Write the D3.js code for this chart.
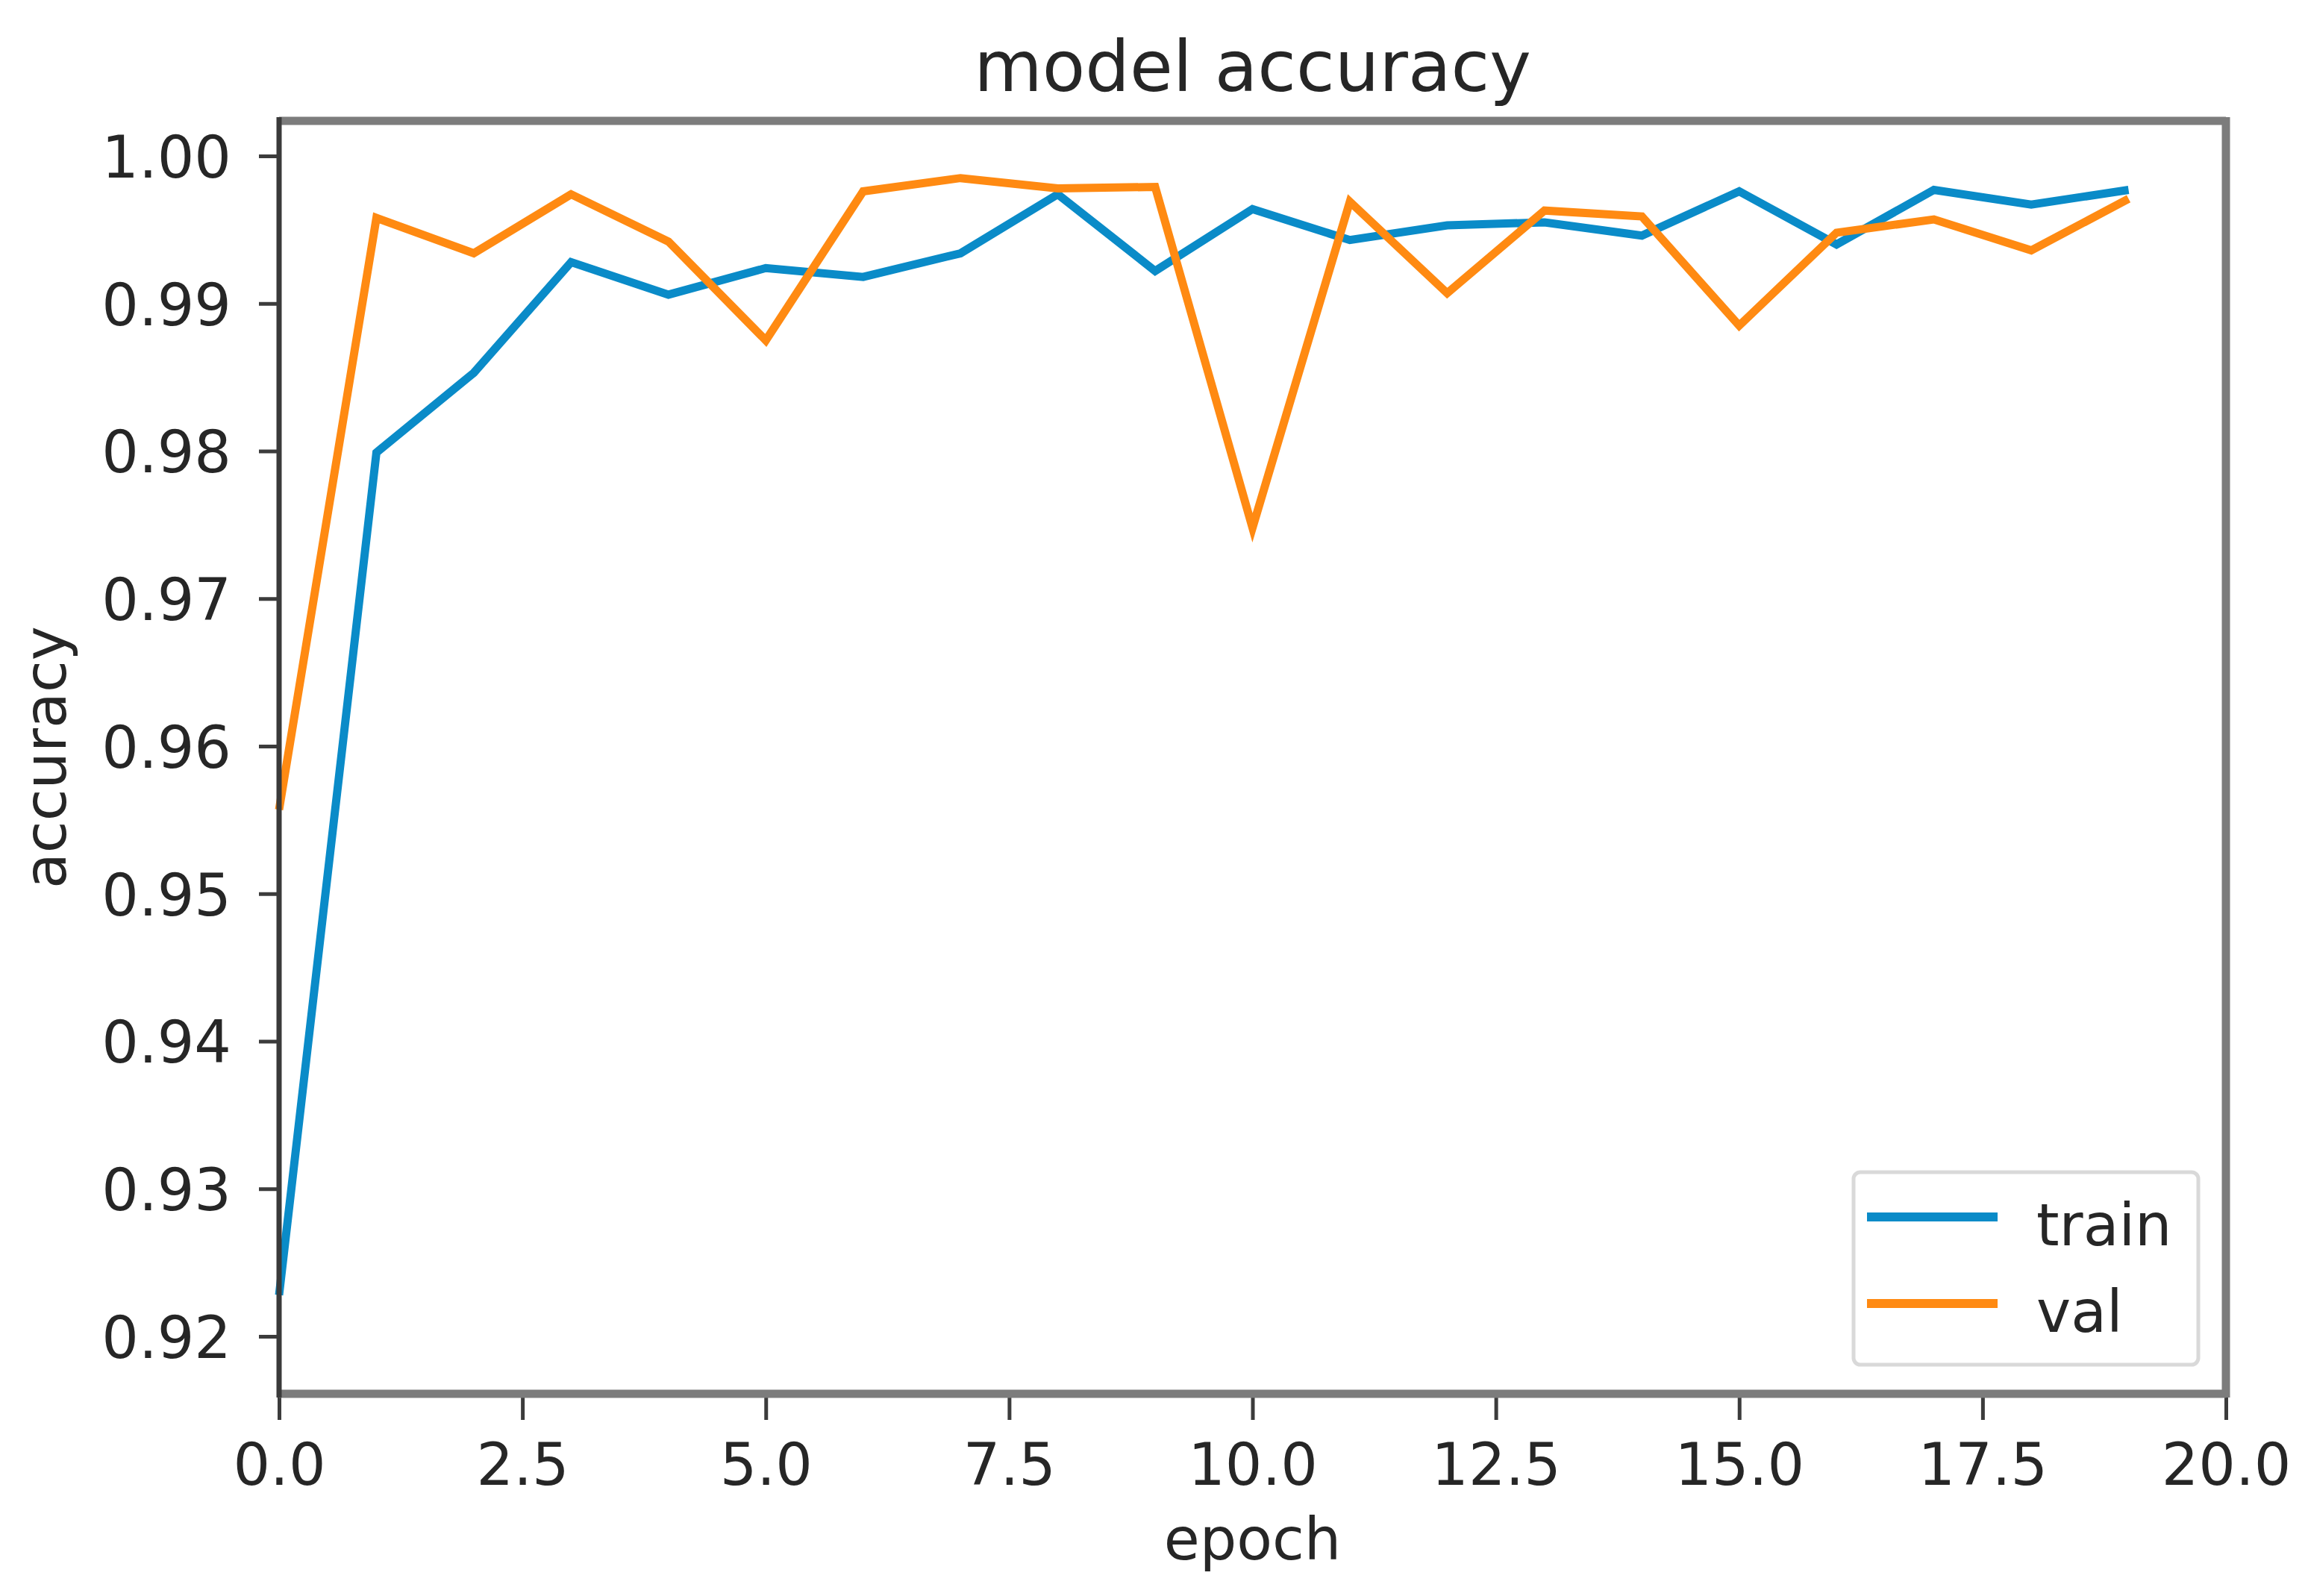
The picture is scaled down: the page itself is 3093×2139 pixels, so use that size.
<!DOCTYPE html>
<html>
<head>
<meta charset="utf-8">
<script src="https://cdnjs.cloudflare.com/ajax/libs/d3/7.8.5/d3.min.js"></script>
<style>
  html, body { margin: 0; padding: 0; background: #ffffff; }
  svg { display: block; }
  text { font-family: "DejaVu Sans", sans-serif; fill: #262626; }
</style>
</head>
<body>
<svg id="chart" width="3093" height="2139"></svg>
<script>
// ---- data ----
const epochs = [0,1,2,3,4,5,6,7,8,9,10,11,12,13,14,15,16,17,18,19];
const trainAcc = [0.9228, 0.9799, 0.9853, 0.9928, 0.9906, 0.9924, 0.9918, 0.9934, 0.9974, 0.9922,
                  0.9964, 0.9943, 0.9953, 0.9955, 0.9946, 0.9976, 0.9940, 0.9977, 0.9967, 0.9977];
const valAcc   = [0.9557, 0.9958, 0.9934, 0.9974, 0.9942, 0.9875, 0.9976, 0.9985, 0.9978, 0.9979,
                  0.9748, 0.9969, 0.9907, 0.9963, 0.9959, 0.9885, 0.9948, 0.9957, 0.9936, 0.9971];
const xTicks = [0, 2.5, 5, 7.5, 10, 12.5, 15, 17.5, 20];
const yTicks = [0.92, 0.93, 0.94, 0.95, 0.96, 0.97, 0.98, 0.99, 1.00];
const seriesNames = ["train", "val"];
const seriesColors = ["#0a8bc8", "#ff8a12"];
const titleText = "model accuracy";
const xLabelText = "epoch";
const yLabelText = "accuracy";

// ---- layout ----
const L = 374, R = 2983, T = 162, B = 1868;
const svg = d3.select("#chart");
svg.append("rect").attr("width", 3093).attr("height", 2139).attr("fill", "#fff");

const x = d3.scaleLinear().domain([0, 20]).range([L, R]);
const y = d3.scaleLinear().domain([0.916106, 1.002377]).range([B, T]);

const FS = 78;

// lines
const line = d3.line().x((d, i) => x(epochs[i])).y(d => y(d));
[trainAcc, valAcc].forEach((s, k) => {
  svg.append("path")
    .datum(s)
    .attr("d", line)
    .attr("fill", "none")
    .attr("stroke", seriesColors[k])
    .attr("stroke-width", 11)
    .attr("stroke-linejoin", "miter")
    .attr("stroke-linecap", "butt");
});

// axes (ticks + labels)
const xAxis = d3.axisBottom(x).tickValues(xTicks).tickFormat(d3.format(".1f"))
  .tickSizeInner(35).tickSizeOuter(0).tickPadding(0);
const gx = svg.append("g").attr("transform", `translate(0,${B})`).call(xAxis);
gx.select(".domain").remove();
gx.selectAll(".tick line").attr("stroke", "#3c3c3c").attr("stroke-width", 5);
gx.selectAll(".tick text")
  .attr("y", null).attr("dy", null)
  .attr("transform", "translate(0,122)")
  .attr("font-size", FS).attr("fill", "#262626")
  .attr("font-family", '"DejaVu Sans", sans-serif');

const yAxis = d3.axisLeft(y).tickValues(yTicks).tickFormat(d3.format(".2f"))
  .tickSizeInner(27).tickSizeOuter(0).tickPadding(0);
const gy = svg.append("g").attr("transform", `translate(${L},0)`).call(yAxis);
gy.select(".domain").remove();
gy.selectAll(".tick line").attr("stroke", "#3c3c3c").attr("stroke-width", 5);
gy.selectAll(".tick text")
  .attr("x", -64).attr("dy", null)
  .attr("transform", `translate(0,${0.729 * FS / 2})`)
  .attr("font-size", FS).attr("fill", "#262626")
  .attr("font-family", '"DejaVu Sans", sans-serif');

// spines
svg.append("line").attr("x1", L).attr("x2", R).attr("y1", T).attr("y2", T)
  .attr("stroke", "#7c7c7c").attr("stroke-width", 11);
svg.append("line").attr("x1", L).attr("x2", R).attr("y1", B).attr("y2", B)
  .attr("stroke", "#7c7c7c").attr("stroke-width", 11);
svg.append("line").attr("x1", R).attr("x2", R).attr("y1", T - 5).attr("y2", B + 5)
  .attr("stroke", "#7c7c7c").attr("stroke-width", 11);
svg.append("line").attr("x1", L).attr("x2", L).attr("y1", T - 5).attr("y2", B + 5)
  .attr("stroke", "#3a3a3a").attr("stroke-width", 7);

// title and axis labels
svg.append("text").attr("x", (L + R) / 2).attr("y", 122)
  .attr("text-anchor", "middle").attr("font-size", 94).text(titleText);
svg.append("text").attr("x", (L + R) / 2).attr("y", 2090)
  .attr("text-anchor", "middle").attr("font-size", FS).text(xLabelText);
svg.append("text")
  .attr("transform", `translate(88,${(T + B) / 2}) rotate(-90)`)
  .attr("text-anchor", "middle").attr("font-size", FS).text(yLabelText);

// legend
const lg = svg.append("g");
lg.append("rect").attr("x", 2484).attr("y", 1571).attr("width", 462).attr("height", 258)
  .attr("rx", 9).attr("fill", "#fff").attr("fill-opacity", 0.9)
  .attr("stroke", "#d9d9d9").attr("stroke-width", 5);
const legendRows = [1631, 1747];
seriesNames.forEach((name, k) => {
  lg.append("line").attr("x1", 2502).attr("x2", 2677)
    .attr("y1", legendRows[k]).attr("y2", legendRows[k])
    .attr("stroke", seriesColors[k]).attr("stroke-width", 12);
  lg.append("text").attr("x", 2729).attr("y", legendRows[k] + 38)
    .attr("font-size", FS).text(name);
});
</script>
</body>
</html>
